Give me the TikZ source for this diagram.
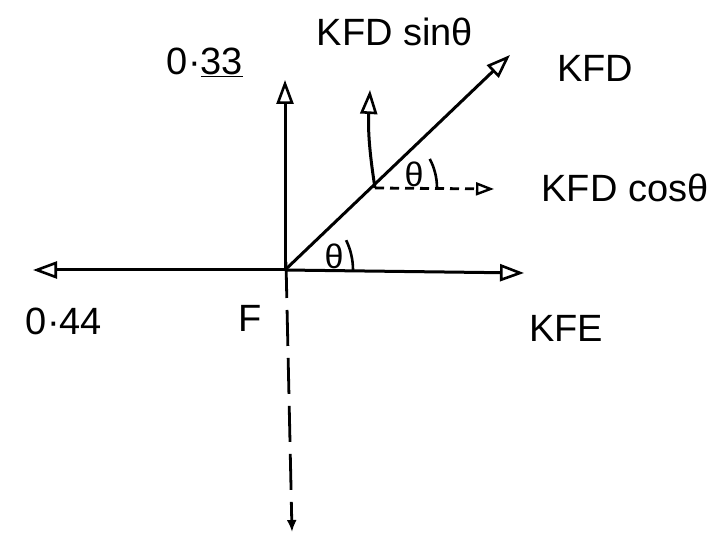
\documentclass[tikz,border=0pt]{standalone}
\usepackage{fontspec}
\setmainfont{Liberation Sans}
\usetikzlibrary{arrows.meta}

\begin{document}
\begin{tikzpicture}[
			x=1pt, y=-1pt,
			>={Triangle[open,length=24pt,width=17pt,line width=2.6pt]},
			force/.style={->, line width=3pt},
			comp/.style={->, line width=2.8pt, dash pattern=on 9pt off 6pt},
			lbl/.style={font=\fontsize{38}{44}\selectfont, inner sep=0pt},
			ang/.style={font=\fontsize{34}{38}\selectfont, inner sep=0pt}
			]
			\useasboundingbox (0,0) rectangle (717,537);
			\coordinate (F) at (285,270);
			\coordinate (left) at (33,270);
			\coordinate (right) at (524,273);
			\coordinate (up) at (285,80);
			\coordinate (diag) at (510,55);
			\coordinate (mid) at (375,188);
			\coordinate (midup) at (370,90);
			\coordinate (midright) at (494,189);
			\coordinate (down) at (292,532);
			
			% main forces at joint F
			\draw[force] (F) -- (left);
			\draw[force] (F) -- (right);
			\draw[force] (F) -- (up);
			\draw[force] (F) -- (diag);
			\draw[force] (mid) to[bend left=6] (midup);
			\draw[comp, >={Triangle[open,length=18pt,width=13pt,line width=2.4pt]}] (mid) -- (midright);
			\draw[line width=2.8pt, dash pattern=on 36pt off 12pt, -{Latex[length=12pt,width=10pt]}] ([xshift=1pt,yshift=8pt]F) -- (down);
			
			% angles
			\draw[line width=2.6pt] (F) ++(68,0) arc[start angle=0, end angle=-26, radius=68];
			\draw[line width=2.6pt] (mid) ++(62,0) arc[start angle=0, end angle=-28, radius=62];
			\node[ang] (th1) at (334,256) {θ};
			\node[ang] (th2) at (414,174) {θ};
			
			% labels
			\node[lbl] (n033) at (205,62) {0·\underline{33}};
			\node[lbl] (kfdsin) at (395,32) {KFD sinθ};
			\node[lbl] (kfd) at (595,68) {KFD};
			\node[lbl] (kfdcos) at (625,188) {KFD cosθ};
			\node[lbl] (n044) at (64,321) {0·44};
			\node[lbl] (lblF) at (250,318) {F};
			\node[lbl] (kfe) at (566,328) {KFE};
		\end{tikzpicture}
\end{document}
